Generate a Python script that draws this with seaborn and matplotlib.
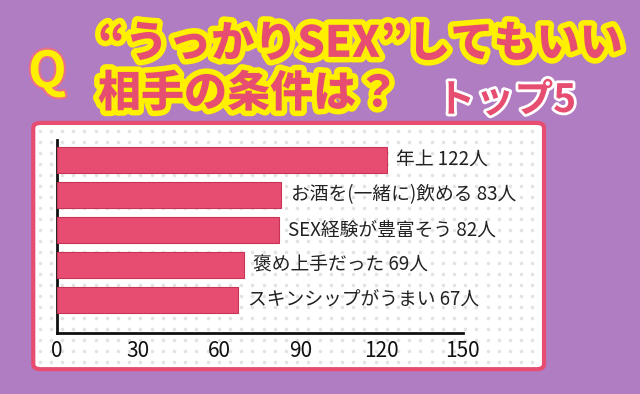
import numpy as np
import pandas as pd
import matplotlib
matplotlib.use('Agg')
import matplotlib.pyplot as plt
import matplotlib.patheffects as pe
from matplotlib.patches import FancyBboxPatch
import seaborn as sns

# ── DATA ──────────────────────────────────────────────────────────────
conditions = ['年上', 'お酒を(一緒に)飲める', 'SEX経験が豊富そう',
              '褒め上手だった', 'スキンシップがうまい']
counts     = [122, 83, 82, 69, 67]
x_ticks    = [0, 30, 60, 90, 120, 150]
unit       = '人'

df = pd.DataFrame({'condition': conditions, 'count': counts})

# ── STYLE ─────────────────────────────────────────────────────────────
sns.set_style('white')
plt.rcParams['font.family'] = ['Noto Sans CJK JP', 'DejaVu Sans']

purple = '#b07cc2'
pink   = '#e64d70'
yellow = '#fff000'

fig = plt.figure(figsize=(6.4, 3.94), dpi=100)
fig.patch.set_facecolor(purple)

# white panel with pink border
panel = FancyBboxPatch((0.052, 0.063), 0.798, 0.625,
                       boxstyle='round,pad=0,rounding_size=0.012',
                       transform=fig.transFigure, facecolor='white',
                       edgecolor=pink, linewidth=3, zorder=-2)
fig.patches.append(panel)

# dotted backdrop
gx, gy = np.meshgrid(np.arange(0.062, 0.845, 0.0175),
                     np.arange(0.08, 0.68, 0.028))
fig.add_artist(plt.Line2D(gx.ravel(), gy.ravel(), transform=fig.transFigure,
                          linestyle='none', marker='o', markersize=1.5,
                          color='#e2e2e2', zorder=-1))

# ── BAR CHART ─────────────────────────────────────────────────────────
ax = fig.add_axes([0.089, 0.155, 0.634, 0.49], zorder=2)
ax.set_facecolor('none')
sns.barplot(data=df, y='condition', x='count', orient='h', color=pink,
            width=0.74, saturation=1, ax=ax, zorder=3,
            edgecolor='#c83456', linewidth=0.8)

for i, (c, v) in enumerate(zip(conditions, counts)):
    ax.text(v + 3.5, i, f'{c} {v}{unit}', va='center', ha='left',
            fontsize=13.5, color='#222222', zorder=4)

ax.set_xlim(0, 150)
ax.set_ylim(4.94, -0.57)
ax.set_xticks(x_ticks)
ax.set_yticks([])
ax.set_xlabel('')
ax.set_ylabel('')
ax.tick_params(axis='x', direction='in', length=5, width=1.5,
               labelsize=15, colors='#111111', pad=5)
for s in ['top', 'right']:
    ax.spines[s].set_visible(False)
for s in ['left', 'bottom']:
    ax.spines[s].set_linewidth(2)
    ax.spines[s].set_color('#111111')

# ── TITLE ─────────────────────────────────────────────────────────────
stroke = [pe.withStroke(linewidth=8, foreground=yellow)]
fig.text(0.153, 0.888, '“うっかりSEX”してもいい', fontsize=31, weight='black',
         color=pink, ha='left', va='center', path_effects=stroke)
fig.text(0.153, 0.762, '相手の条件は？', fontsize=31, weight='black',
         color=pink, ha='left', va='center', path_effects=stroke)
fig.text(0.074, 0.815, 'Q', fontsize=36, weight='bold', color=yellow,
         ha='center', va='center',
         path_effects=[pe.withStroke(linewidth=3, foreground='#e8708a')])
fig.text(0.682, 0.745, 'トップ5', fontsize=28, weight='bold', color=pink,
         style='italic', ha='left', va='center',
         path_effects=[pe.withStroke(linewidth=4, foreground='white')])

fig.savefig('out.png', dpi=100, facecolor=fig.get_facecolor())
